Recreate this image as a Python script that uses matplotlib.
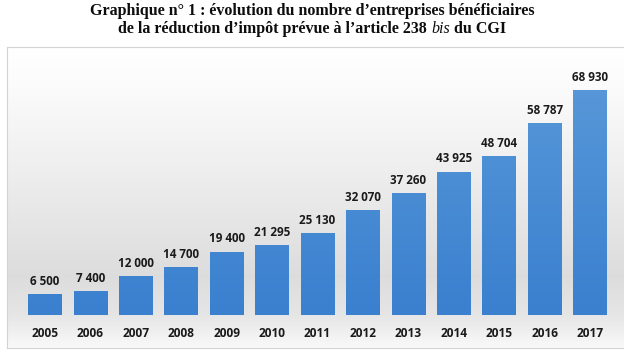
import numpy as np
import matplotlib
matplotlib.use("Agg")
import matplotlib.pyplot as plt
from matplotlib.colors import LinearSegmentedColormap
from matplotlib.patches import Rectangle

years = ["2005", "2006", "2007", "2008", "2009", "2010", "2011",
         "2012", "2013", "2014", "2015", "2016", "2017"]
values = [6500, 7400, 12000, 14700, 19400, 21295, 25130,
          32070, 37260, 43925, 48704, 58787, 68930]
labels = ["6 500", "7 400", "12 000", "14 700", "19 400", "21 295", "25 130",
          "32 070", "37 260", "43 925", "48 704", "58 787", "68 930"]

W, H = 624, 351
fig = plt.figure(figsize=(W / 100, H / 100), dpi=100)
fig.patch.set_facecolor("white")

def fx(px):
    return px / W

def fy(py):
    return 1 - py / H

TFS = 11.5
tkw = dict(fontsize=TFS, fontweight="bold", family="Liberation Serif", color="#0d0d0d")
fig.text(0.5, fy(11), "Graphique n° 1 : évolution du nombre d’entreprises bénéficiaires",
         ha="center", va="center", **tkw)

# second title line composed of pieces (italic "bis")
parts = [("de la réduction d’impôt prévue à l’article 238 ", "normal"),
         ("bis", "italic"),
         (" du CGI", "normal")]
renderer = fig.canvas.get_renderer()
tmp = []
widths = []
for s, st in parts:
    kw = dict(tkw)
    if st == "italic":
        kw["fontweight"] = "normal"
    t = fig.text(0, fy(29), s, ha="left", va="center", style=st, **kw)
    bb = t.get_window_extent(renderer=renderer)
    tmp.append(t)
    widths.append(bb.width)
total = sum(widths)
xstart = (W - total) / 2
for t, w in zip(tmp, widths):
    t.set_x(fx(xstart))
    xstart += w

# Background box with gradient
box_l, box_r, box_t, box_b = 7, 625, 47, 348
base_y = 315
top_px = 90
bg = fig.add_axes([fx(box_l), fy(box_b), fx(box_r - box_l), (box_b - box_t) / H])
span = box_b - box_t
prof_y = np.array([0, 40, 130, 230, 268, 285, 300, 312, 318, 301]) 
prof_y = np.array([0, 40, 130, 230, 268, 300]) / span
prof_v = np.array([1.0, 0.985, 0.93, 0.865, 0.90, 0.975])
ys = np.linspace(0, 1, 400)
vals = np.interp(ys, prof_y, prof_v)
img = np.repeat(vals[:, None], 2, axis=1)
bg.imshow(np.dstack([img, img, img]), aspect="auto", extent=[0, 1, 1, 0])
bg.set_xlim(0, 1)
bg.set_ylim(1, 0)
bg.set_xticks([])
bg.set_yticks([])
for s in bg.spines.values():
    s.set_color("#d3d3d3")
    s.set_linewidth(0.8)

# Bar axes
ymax = values[-1] * (base_y - box_t) / (base_y - top_px)
x0c, step = 45, (590 - 45) / 12
xl = (box_l - x0c) / step
xr = (box_r - x0c) / step
ax = fig.add_axes([fx(box_l), fy(base_y), fx(box_r - box_l), (base_y - box_t) / H])
ax.set_facecolor("none")
ax.set_xlim(xl, xr)
ax.set_ylim(0, ymax)
ax.axis("off")

x = np.arange(len(years))
bars = ax.bar(x, values, width=0.74, color="#4a8ed6", zorder=2)
cmap = LinearSegmentedColormap.from_list("bl", ["#3a80cf", "#5c9bda"])
grad = np.linspace(0, 1, 100)[:, None]
for b in bars:
    bx, bw, bh = b.get_x(), b.get_width(), b.get_height()
    im = ax.imshow(grad, cmap=cmap, aspect="auto", origin="lower",
                   extent=[bx, bx + bw, 0, ymax], zorder=3)
    rect = Rectangle((bx, 0), bw, bh, transform=ax.transData)
    im.set_clip_path(rect)
ax.set_xlim(xl, xr)
ax.set_ylim(0, ymax)

for xi, v, lab in zip(x, values, labels):
    ax.annotate(lab, (xi, v), xytext=(0, 4.5), textcoords="offset points",
                ha="center", va="bottom", fontsize=8.4, fontweight="bold",
                family="Open Sans", color="#1a1a1a", zorder=4)
    ax.annotate(years[xi], (xi, 0), xytext=(0, -13.3), textcoords="offset points",
                ha="center", va="center", fontsize=8.6, fontweight="bold",
                family="Open Sans", color="#1a1a1a", zorder=4)

fig.savefig("out.png", dpi=100)
